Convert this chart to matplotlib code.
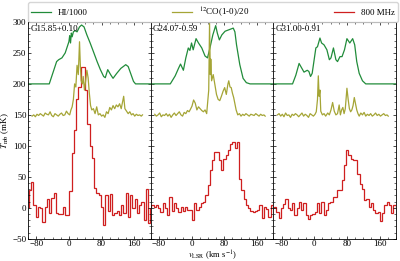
import numpy as np
import matplotlib
matplotlib.use('Agg')
import matplotlib.pyplot as plt
from matplotlib.ticker import MultipleLocator

plt.rcParams['font.family'] = 'serif'
plt.rcParams['font.serif'] = ['Liberation Serif', 'DejaVu Serif']
plt.rcParams['mathtext.fontset'] = 'stix'
plt.rcParams['font.size'] = 6.5

#source names
names = ['G15.85+0.10', 'G24.07-0.59', 'G31.00-0.91']

#HI/1000 profiles (velocity, T)
hi_v1 = [-100, -48, -38, -30, -25, -17, -9, -3, 0, 2, 4, 6, 8, 11, 15, 20, 26, 31, 37, 44, 52, 60, 69, 77,
         85, 89, 95, 102, 108, 117, 127, 139, 145, 151, 158, 163, 170, 200]
hi_t1 = [200, 200, 220, 236, 239, 242, 250, 262, 268, 278, 266, 282, 276, 284, 286, 284, 292, 295, 292, 279,
         266, 252, 236, 223, 212, 210, 223, 215, 209, 217, 225, 231, 228, 217, 204, 200, 200, 200]
hi_v2 = [-100, -52, -40, -32, -27, -20, -14, -8, -4, 0, 4, 11, 17, 25, 33, 39, 45, 52, 59, 63, 68, 74, 82,
         94, 102, 106, 110, 118, 126, 134, 143, 200]
hi_t2 = [200, 200, 213, 225, 232, 222, 242, 258, 254, 266, 255, 273, 266, 258, 245, 242, 258, 279, 294, 282,
         271, 279, 285, 288, 290, 284, 263, 231, 209, 202, 200, 200]
hi_v3 = [-100, -53, -45, -37, -31, -25, -17, -13, -9, -5, 4, 8, 14, 18, 24, 31, 37, 41, 47, 53, 57, 63, 68,
         74, 80, 87, 94, 99, 104, 110, 118, 126, 200]
hi_t3 = [200, 200, 214, 233, 226, 219, 222, 220, 212, 217, 258, 260, 274, 266, 263, 255, 239, 242, 258, 239,
         236, 244, 244, 255, 273, 266, 273, 263, 236, 217, 205, 200, 200]

#12CO(1-0)/20 profiles
co_base_v = [-90, -86, -82, -78, -74, -70, -66, -62, -58, -54, -50, -46, -42, -38, -34, -30, -26, -22, -18,
             -14, -10, -6, -2]
co_v1 = co_base_v + [2, 5, 8, 11, 14, 17, 20, 23, 26, 28, 30, 33, 35, 38, 41, 44, 47, 50, 53, 56, 60, 64, 68,
                     72, 76, 80, 84, 88, 92, 96, 100, 104, 108, 112, 116, 120, 124, 128, 131, 134, 137, 141,
                     145, 149, 153, 157, 161, 165, 169, 173, 177, 180]
co_t1 = [148, 150, 147, 151, 149, 152, 150, 148, 153, 151, 150, 155, 149, 147, 152, 150, 148, 151, 153, 149,
         150, 156, 152,
         150, 158, 163, 175, 200, 195, 230, 215, 268, 230, 205, 200, 212, 190, 205, 222, 210, 185, 165, 158,
         160, 152, 163, 150, 152, 148, 150, 146, 155, 152, 162, 158, 165, 160, 166, 163, 168, 160, 170, 180,
         160, 156, 152, 155, 150, 152, 148, 151, 149, 150, 148, 150]
co_v2 = co_base_v + [1, 5, 9, 13, 17, 21, 25, 29, 33, 37, 40, 42, 44, 46, 47, 49, 53, 57, 61, 65, 69, 73, 77,
                     81, 85, 89, 91, 94, 97, 100, 103, 106, 109, 113, 117, 121, 125, 129, 133, 137, 141, 145,
                     149, 153, 157, 161, 165, 169, 173, 177, 180]
co_t2 = [151, 148, 150, 153, 147, 150, 149, 152, 148, 151, 146, 150, 153, 149, 152, 155, 150, 148, 154, 152,
         157, 155, 160,
         164, 174, 169, 158, 163, 160, 157, 155, 158, 152, 175, 190, 298, 215, 240, 205, 215, 199, 183, 175,
         173, 180, 188, 194, 183, 200, 205, 195, 194, 185, 178, 168, 158, 150, 152, 148, 151, 149, 152, 150,
         148, 151, 150, 149, 152, 150, 148, 151, 149, 150, 148]
co_v3 = co_base_v + [2, 5, 8, 10, 12, 14, 16, 20, 24, 28, 33, 37, 41, 45, 49, 53, 57, 61, 64, 67, 70, 73, 76,
                     80, 83, 86, 89, 92, 95, 98, 101, 104, 107, 110, 114, 118, 122, 126, 130, 134, 138, 142,
                     146, 150, 154, 158, 162, 166, 170, 174, 178, 181]
co_t3 = [150, 152, 148, 151, 147, 153, 149, 150, 146, 151, 149, 152, 150, 147, 150, 153, 148, 151, 149, 146,
         152, 150, 148,
         151, 155, 175, 213, 180, 190, 156, 150, 152, 148, 153, 150, 158, 170, 156, 150, 152, 166, 150, 158,
         162, 152, 160, 193, 175, 160, 155, 158, 165, 178, 168, 158, 152, 148, 153, 150, 154, 148, 151, 149,
         152, 148, 150, 153, 149, 151, 148, 150, 152, 149, 150, 148]

#800 MHz spectra (channels of 5.5 km/s starting at -98)
red1 = [28, 42, 5, -15, 1, 0, -23, 2, 14, -8, 16, 24, -9, -10, -10, 1, -12, -11, 27, 89, 125, 175, 195, 228,
        228, 190, 135, 100, 80, 32, 24, 20, 2, -27, 20, -5, 22, -12, -8, -5, -12, 5, -8, 24, -14, 20, 0, 15,
        -8, 5, 10, -20, 30, -25]
red2 = [5, 2, 5, 0, -7, 7, 0, -11, 18, -5, 7, 0, -7, 2, -5, 2, -3, -3, -19, 7, -3, 2, 7, 10, 21, 37, 61, 77,
        90, 90, 77, 61, 79, 85, 93, 103, 107, 96, 107, 47, 29, 15, 5, 0, -5, -7, -5, -3, 4, -16, 2, -2, -14, 4]
red3 = [2, -6, -16, 0, 6, 15, 0, -3, 7, -12, 0, 10, -3, 7, -11, -18, -11, -10, -7, 7, -8, 10, -11, -3, 7, 10,
        18, 18, 29, 29, 45, 69, 94, 85, 78, 77, 77, 55, 39, 31, 13, 15, 2, 7, -3, -8, -7, -22, -8, 5, 10, 4,
        -8, 5]
chan_w = 5.5
chan_start = -98

hi_v = [hi_v1, hi_v2, hi_v3]
hi_t = [hi_t1, hi_t2, hi_t3]
co_v = [co_v1, co_v2, co_v3]
co_t = [co_t1, co_t2, co_t3]
reds = [red1, red2, red3]

green = '#218c3a'
olive = '#a5a536'
red = '#cf1f1f'

fig, axes = plt.subplots(1, 3, figsize=(4, 2.61), dpi=100, sharey=True)
fig.subplots_adjust(left=0.07, right=0.99, bottom=0.085, top=0.916, wspace=0)

for i, ax in enumerate(axes):
    ax.plot(hi_v[i], hi_t[i], color=green, lw=0.9, label='HI/1000')
    ax.plot(co_v[i], co_t[i], color=olive, lw=0.9, label=r'$^{12}$CO(1-0)/20')
    edges = chan_start + chan_w * np.arange(len(reds[i]) + 1)
    ax.stairs(reds[i], edges, color=red, lw=0.9, label='800 MHz')

    ax.set_xlim(-100, 200)
    ax.set_ylim(-50, 300)
    ax.xaxis.set_major_locator(MultipleLocator(80))
    ax.xaxis.set_minor_locator(MultipleLocator(20))
    ax.yaxis.set_major_locator(MultipleLocator(50))
    ax.yaxis.set_minor_locator(MultipleLocator(10))
    ax.tick_params(which='both', direction='in', top=True, right=True, labelsize=6.5, pad=1.2)
    ax.tick_params(which='major', length=2.5, width=0.5)
    ax.tick_params(which='minor', length=1.3, width=0.4)
    for s in ax.spines.values():
        s.set_linewidth(0.6)
    ax.text(0.02, 0.985, names[i], transform=ax.transAxes, ha='left', va='top', fontsize=6.5)

axes[0].set_ylabel(r'$T_{\rm mb}$ (mK)', fontsize=6.5, labelpad=1)
axes[1].set_xlabel(r'$v_{\rm LSR}$ (km s$^{-1}$)', fontsize=6.2, labelpad=-0.5)

handles, labels = axes[0].get_legend_handles_labels()
fig.legend(handles, labels, loc='upper left', bbox_to_anchor=(0.07, 0.94, 0.925, 0.052), mode='expand',
           ncol=3, fontsize=6.5, borderaxespad=0, borderpad=0.35, handlelength=2.2, frameon=True,
           edgecolor='#cccccc')

plt.savefig('out.png', dpi=100)
